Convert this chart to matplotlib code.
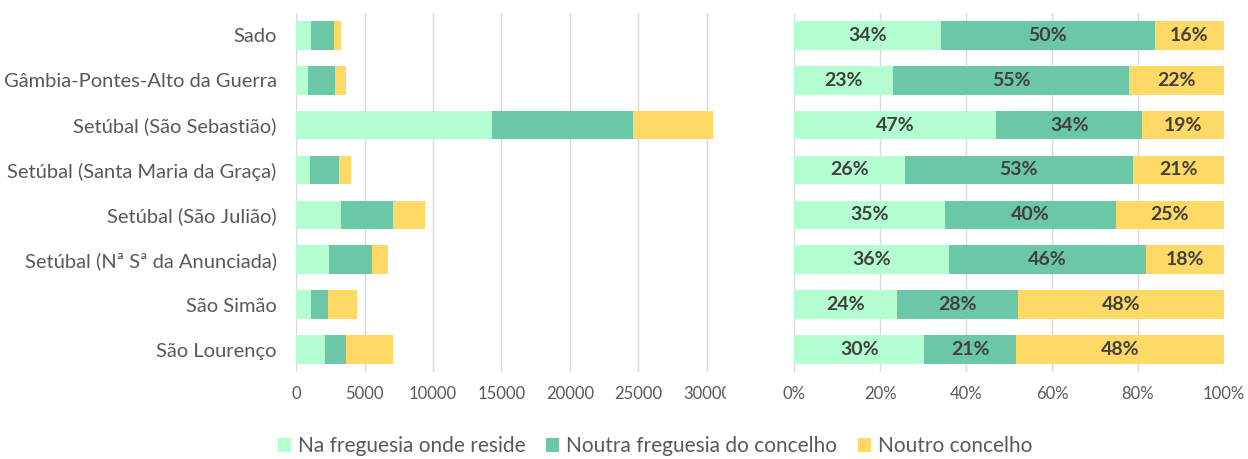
import numpy as np
import matplotlib.pyplot as plt
from matplotlib.transforms import Bbox, TransformedBbox

# freguesias (de cima para baixo)
freguesias = ["Sado", "Gâmbia-Pontes-Alto da Guerra", "Setúbal (São Sebastião)",
              "Setúbal (Santa Maria da Graça)", "Setúbal (São Julião)",
              "Setúbal (Nª Sª da Anunciada)", "São Simão", "São Lourenço"]
na_freguesia = [1120, 840, 14290, 1030, 3300, 2420, 1070, 2150]
outra_freguesia = [1645, 2000, 10340, 2120, 3760, 3100, 1250, 1520]
outro_concelho = [525, 800, 5780, 850, 2360, 1220, 2140, 3440]
series_nomes = ["Na freguesia onde reside", "Noutra freguesia do concelho", "Noutro concelho"]
cores = ["#B3FFD1", "#6CC7A6", "#FFD966"]

plt.rcParams['font.family'] = ['Lato', 'DejaVu Sans']

dados = np.array([na_freguesia, outra_freguesia, outro_concelho], dtype=float)
pct = dados / dados.sum(axis=0) * 100
y = np.arange(len(freguesias))

fig = plt.figure(figsize=(12.48, 4.59), dpi=100)
ax1 = fig.add_axes([0.2372, 0.1895, 0.3446, 0.7825])
ax2 = fig.add_axes([0.6365, 0.1895, 0.3441, 0.7825])

esq = np.zeros(len(freguesias))
esq2 = np.zeros(len(freguesias))
barras = []
for i in range(3):
    b = ax1.barh(y, dados[i], left=esq, height=0.64, color=cores[i], label=series_nomes[i], zorder=3)
    barras.append(b)
    ax2.barh(y, pct[i], left=esq2, height=0.64, color=cores[i], zorder=3)
    for j in range(len(freguesias)):
        ax2.text(esq2[j] + pct[i][j] / 2, y[j], f"{round(pct[i][j])}%", ha='center', va='center',
                 fontsize=14, fontweight='bold', color='#404040', zorder=4)
    esq += dados[i]
    esq2 += pct[i]

for ax in (ax1, ax2):
    ax.set_ylim(len(freguesias) - 0.5, -0.5)
    ax.grid(axis='x', color='#D9D9D9', linewidth=1, zorder=0)
    for s in ax.spines.values():
        s.set_visible(False)
    ax.tick_params(axis='both', length=0, colors='#595959', labelsize=12)
    ax.tick_params(axis='x', pad=10)

ax1.set_xlim(0, 31400)
ax1.set_xticks([0, 5000, 10000, 15000, 20000, 25000, 30000])
ax1.set_yticks(y)
ax1.set_yticklabels(freguesias, fontsize=14.5)
ax1.tick_params(axis='y', pad=14)

# o último rótulo fica cortado como no original
caixa = TransformedBbox(Bbox([[-0.2, -0.5], [1.0, 1.0]]), ax1.transAxes)
for t in ax1.get_xticklabels():
    t.set_clip_on(True)
    t.set_clip_box(caixa)

ax2.set_xlim(0, 100)
ax2.set_xticks(range(0, 101, 20))
ax2.set_xticklabels([f"{v}%" for v in range(0, 101, 20)])
ax2.set_yticks([])

fig.legend(handles=barras, labels=series_nomes, loc='center', bbox_to_anchor=(0.525, 0.028),
           ncol=3, frameon=False, fontsize=15, handlelength=0.6, handleheight=0.7,
           handletextpad=0.35, columnspacing=1.0, labelcolor='#595959')

fig.savefig("out.png", dpi=100)
